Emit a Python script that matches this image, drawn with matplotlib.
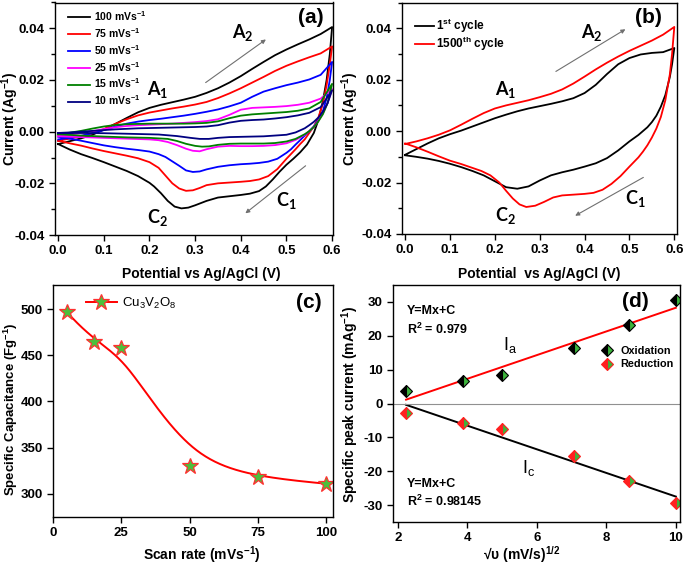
#!/usr/bin/env python3
"""
CV curves, cycling, capacitance vs scan rate and peak current fit (Cu3V2O8)
"""

import numpy as np
import matplotlib
matplotlib.use('Agg')
import matplotlib.pyplot as plt
from matplotlib.ticker import MultipleLocator, FormatStrFormatter
from matplotlib.lines import Line2D

plt.rcParams['font.family'] = ['Liberation Sans', 'DejaVu Sans']
plt.rcParams['font.weight'] = 'bold'
plt.rcParams['axes.labelweight'] = 'bold'
plt.rcParams['axes.unicode_minus'] = False
plt.rcParams['axes.linewidth'] = 1.0

# ---------------- (a) CV at different scan rates ----------------
rates = ['100', '75', '50', '25', '15', '10']
cv_colors = ['#000000', '#ff0000', '#0000ff', '#ff00ff', '#008000', '#000080']

fwd_x = [0, 0.025, 0.05, 0.075, 0.1, 0.125, 0.15, 0.175, 0.2, 0.225, 0.25, 0.275,
         0.3, 0.325, 0.35, 0.375, 0.4, 0.425, 0.45, 0.475, 0.5, 0.525, 0.55, 0.575, 0.6]

fwd_100 = [-0.0048, -0.0037, -0.0026, -0.0012, 0.0008, 0.0030, 0.0053, 0.0075, 0.0092, 0.0104,
           0.0114, 0.0124, 0.0135, 0.0150, 0.0168, 0.0190, 0.0215, 0.0243, 0.0270, 0.0296,
           0.0318, 0.0338, 0.0357, 0.0378, 0.0405]
fwd_75 = [-0.0035, -0.0027, -0.0018, -0.0006, 0.0010, 0.0030, 0.0048, 0.0063, 0.0074, 0.0082,
          0.0090, 0.0097, 0.0105, 0.0115, 0.0130, 0.0148, 0.0168, 0.0190, 0.0212, 0.0235,
          0.0255, 0.0272, 0.0288, 0.0303, 0.0330]
fwd_50 = [-0.0030, -0.0024, -0.0016, -0.0006, 0.0006, 0.0020, 0.0031, 0.0039, 0.0045, 0.0050,
          0.0056, 0.0062, 0.0069, 0.0077, 0.0086, 0.0098, 0.0112, 0.0135, 0.0155, 0.0168,
          0.0180, 0.0190, 0.0202, 0.0220, 0.0270]
fwd_25 = [-0.0018, -0.0012, -0.0005, 0.0002, 0.0010, 0.0017, 0.0022, 0.0025, 0.0027, 0.0029,
          0.0031, 0.0034, 0.0037, 0.0041, 0.0048, 0.0065, 0.0085, 0.0092, 0.0094, 0.0096,
          0.0099, 0.0104, 0.0112, 0.0128, 0.0165]
fwd_15 = [-0.0010, -0.0004, 0.0003, 0.0012, 0.0020, 0.0026, 0.0029, 0.0030, 0.0031, 0.0031,
          0.0031, 0.0031, 0.0032, 0.0034, 0.0040, 0.0052, 0.0062, 0.0067, 0.0070, 0.0073,
          0.0076, 0.0081, 0.0090, 0.0115, 0.0185]
fwd_10 = [-0.0005, -0.0003, 0.0000, 0.0003, 0.0006, 0.0009, 0.0011, 0.0013, 0.0014, 0.0015,
          0.0016, 0.0017, 0.0018, 0.0020, 0.0025, 0.0035, 0.0042, 0.0045, 0.0047, 0.0051,
          0.0056, 0.0063, 0.0073, 0.0095, 0.0160]

rev_x_100 = [0.6, 0.595, 0.588, 0.58, 0.57, 0.56, 0.545, 0.53, 0.515, 0.5, 0.485, 0.47, 0.455,
             0.44, 0.42, 0.4, 0.375, 0.35, 0.325, 0.3, 0.285, 0.27, 0.255, 0.24, 0.225, 0.21,
             0.2, 0.175, 0.15, 0.125, 0.1, 0.075, 0.05, 0.025, 0]
rev_100 = [0.0405, 0.030, 0.020, 0.012, 0.0045, -0.0005, -0.005, -0.008, -0.0105, -0.0128,
           -0.0155, -0.0185, -0.0212, -0.0230, -0.0240, -0.0245, -0.0250, -0.0255, -0.0268,
           -0.0285, -0.0294, -0.0297, -0.0290, -0.0268, -0.0238, -0.0212, -0.0198, -0.0172,
           -0.0152, -0.0135, -0.0118, -0.0102, -0.0087, -0.0069, -0.0048]

rev_x_75 = [0.6, 0.595, 0.588, 0.58, 0.57, 0.56, 0.55, 0.54, 0.53, 0.52, 0.5, 0.48, 0.46, 0.44,
            0.42, 0.4, 0.375, 0.35, 0.325, 0.31, 0.295, 0.28, 0.265, 0.25, 0.235, 0.22, 0.2,
            0.175, 0.15, 0.125, 0.1, 0.075, 0.05, 0.025, 0]
rev_75 = [0.033, 0.026, 0.018, 0.011, 0.0055, 0.002, -0.0005, -0.003, -0.0048, -0.0068,
          -0.0105, -0.0145, -0.0172, -0.0185, -0.0191, -0.0194, -0.0197, -0.0200, -0.0207,
          -0.0218, -0.0227, -0.0229, -0.0220, -0.0200, -0.0170, -0.0140, -0.0118, -0.0103,
          -0.0093, -0.0084, -0.0075, -0.0065, -0.0054, -0.0045, -0.0035]

rev_x_50 = [0.6, 0.595, 0.588, 0.58, 0.57, 0.56, 0.55, 0.54, 0.53, 0.52, 0.51, 0.5, 0.48, 0.46,
            0.44, 0.42, 0.4, 0.375, 0.35, 0.325, 0.31, 0.295, 0.28, 0.265, 0.25, 0.235, 0.22,
            0.2, 0.175, 0.15, 0.125, 0.1, 0.075, 0.05, 0.025, 0]
rev_50 = [0.027, 0.020, 0.013, 0.008, 0.0045, 0.002, 0.0002, -0.0015, -0.0033, -0.0050,
          -0.0068, -0.0082, -0.0105, -0.0116, -0.0121, -0.0124, -0.0126, -0.0130, -0.0136,
          -0.0146, -0.0154, -0.0156, -0.0150, -0.0132, -0.0115, -0.0098, -0.0087, -0.0077,
          -0.0071, -0.0066, -0.0060, -0.0053, -0.0044, -0.0035, -0.0027, -0.0020]

rev_x_25 = [0.6, 0.59, 0.58, 0.57, 0.56, 0.55, 0.54, 0.52, 0.5, 0.475, 0.45, 0.425, 0.4, 0.375,
            0.35, 0.325, 0.31, 0.295, 0.28, 0.26, 0.24, 0.22, 0.2, 0.15, 0.1, 0.05, 0]
rev_25 = [0.0165, 0.011, 0.0072, 0.0042, 0.0018, 0.0002, -0.0012, -0.0032, -0.0045, -0.0052,
          -0.0055, -0.0056, -0.0056, -0.0055, -0.0058, -0.0068, -0.0076, -0.0074, -0.0066,
          -0.0052, -0.0040, -0.0033, -0.0030, -0.0027, -0.0024, -0.0021, -0.0018]

rev_x_15 = [0.6, 0.59, 0.58, 0.57, 0.56, 0.55, 0.54, 0.52, 0.5, 0.475, 0.45, 0.425, 0.4, 0.375,
            0.35, 0.33, 0.315, 0.3, 0.28, 0.26, 0.24, 0.2, 0.15, 0.1, 0.05, 0]
rev_15 = [0.0185, 0.011, 0.0068, 0.0040, 0.0018, 0.0002, -0.0010, -0.0028, -0.0038, -0.0044,
          -0.0046, -0.0046, -0.0046, -0.0047, -0.0051, -0.0057, -0.0058, -0.0055, -0.0047,
          -0.0036, -0.0028, -0.0024, -0.0022, -0.0019, -0.0015, -0.0010]

rev_x_10 = [0.6, 0.59, 0.58, 0.57, 0.56, 0.55, 0.54, 0.52, 0.5, 0.45, 0.4, 0.375, 0.35, 0.33,
            0.31, 0.29, 0.26, 0.22, 0.15, 0.1, 0.05, 0]
rev_10 = [0.016, 0.011, 0.0078, 0.0055, 0.0038, 0.0025, 0.0013, -0.0003, -0.0012, -0.0018,
          -0.0020, -0.0021, -0.0024, -0.0028, -0.0028, -0.0024, -0.0017, -0.0011, -0.0008,
          -0.0006, -0.0005, -0.0005]

cv_fwd = [fwd_100, fwd_75, fwd_50, fwd_25, fwd_15, fwd_10]
cv_rev_x = [rev_x_100, rev_x_75, rev_x_50, rev_x_25, rev_x_15, rev_x_10]
cv_rev = [rev_100, rev_75, rev_50, rev_25, rev_15, rev_10]

# ---------------- (b) 1st vs 1500th cycle ----------------
cyc1_fwd = [-0.0092, -0.0070, -0.0048, -0.0028, -0.0012, 0.0002, 0.0018, 0.0034, 0.0050,
            0.0064, 0.0077, 0.0088, 0.0097, 0.0106, 0.0116, 0.0128, 0.0148, 0.0180, 0.0222,
            0.0260, 0.0284, 0.0298, 0.0304, 0.0307, 0.0323]
cyc1_rev_x = [0.6, 0.595, 0.59, 0.58, 0.57, 0.56, 0.55, 0.54, 0.52, 0.5, 0.475, 0.45, 0.425,
              0.4, 0.375, 0.35, 0.325, 0.3, 0.275, 0.25, 0.225, 0.2, 0.175, 0.15, 0.125, 0.1,
              0.075, 0.05, 0.025, 0]
cyc1_rev = [0.0323, 0.026, 0.021, 0.014, 0.0095, 0.006, 0.0035, 0.0015, -0.0015, -0.0040,
            -0.0075, -0.0105, -0.0125, -0.0138, -0.0150, -0.0160, -0.0172, -0.0192, -0.0215,
            -0.0224, -0.0218, -0.0195, -0.0172, -0.0155, -0.0140, -0.0127, -0.0116, -0.0107,
            -0.0100, -0.0094]

cyc1500_fwd = [-0.0050, -0.0040, -0.0028, -0.0014, 0.0003, 0.0025, 0.0048, 0.0070, 0.0088,
               0.0100, 0.0110, 0.0120, 0.0132, 0.0145, 0.0162, 0.0185, 0.0212, 0.0240, 0.0266,
               0.0290, 0.0312, 0.0332, 0.0352, 0.0375, 0.0405]
cyc1500_rev_x = [0.6, 0.595, 0.59, 0.58, 0.57, 0.56, 0.55, 0.54, 0.53, 0.52, 0.5, 0.48, 0.46,
                 0.44, 0.42, 0.4, 0.375, 0.35, 0.33, 0.31, 0.29, 0.27, 0.255, 0.24, 0.225, 0.21,
                 0.19, 0.17, 0.15, 0.125, 0.1, 0.075, 0.05, 0.025, 0]
cyc1500_rev = [0.0405, 0.030, 0.022, 0.012, 0.0055, 0.001, -0.0025, -0.0055, -0.0080, -0.0102,
               -0.0138, -0.0175, -0.0205, -0.0228, -0.0240, -0.0244, -0.0247, -0.0250, -0.0258,
               -0.0275, -0.0290, -0.0295, -0.0285, -0.0262, -0.0232, -0.0200, -0.0172, -0.0155,
               -0.0143, -0.0128, -0.0115, -0.0098, -0.0080, -0.0063, -0.0048]

# ---------------- (c) specific capacitance ----------------
scan_rate = [5, 15, 25, 50, 75, 100]
capacitance = [497, 464, 458, 330, 318, 311]

# ---------------- (d) peak current vs sqrt(scan rate) ----------------
sqrt_rate = [2.236, 3.873, 5.0, 7.071, 8.660, 10.0]
oxidation = [3.6, 6.5, 8.5, 16.3, 23.3, 30.5]
reduction = [-2.8, -5.8, -7.6, -15.6, -23.0, -29.3]


def bspline(px, py, k=3, num=300):
    """Clamped uniform B-spline using the data points as control points"""
    px = np.asarray(px, float)
    py = np.asarray(py, float)
    n = len(px)
    knots = np.concatenate([np.zeros(k + 1), np.arange(1, n - k), np.full(k + 1, n - k)]).astype(float)
    t = np.linspace(0, n - k, num)
    t[-1] -= 1e-9

    def basis(i, d):
        if d == 0:
            return ((knots[i] <= t) & (t < knots[i + 1])).astype(float)
        out = np.zeros_like(t)
        if knots[i + d] != knots[i]:
            out += (t - knots[i]) / (knots[i + d] - knots[i]) * basis(i, d - 1)
        if knots[i + d + 1] != knots[i + 1]:
            out += (knots[i + d + 1] - t) / (knots[i + d + 1] - knots[i + 1]) * basis(i + 1, d - 1)
        return out

    B = np.array([basis(i, k) for i in range(n)])
    return B.T @ px, B.T @ py


def style_cv_axis(ax, xlim):
    ax.set_xlim(*xlim)
    ax.set_ylim(-0.04, 0.05)
    ax.xaxis.set_major_locator(MultipleLocator(0.1))
    ax.yaxis.set_major_locator(MultipleLocator(0.02))
    ax.yaxis.set_minor_locator(MultipleLocator(0.01))
    ax.xaxis.set_major_formatter(FormatStrFormatter('%.1f'))
    ax.yaxis.set_major_formatter(FormatStrFormatter('%.2f'))
    ax.tick_params(which='both', direction='out', width=1, labelsize=9.5)
    ax.tick_params(which='major', length=4)
    ax.tick_params(which='minor', length=3)
    ax.set_ylabel('Current (Ag$\\mathregular{^{-1}}$)', fontsize=10)


def peak_label(ax, x, y, letter, num):
    ax.text(x, y, '$\\mathregular{%s_%s}$' % (letter, num), family='Lato', fontweight='bold',
            fontsize=13, ha='center', va='center')


def arrow(ax, start, end):
    ax.annotate('', xy=end, xytext=start,
                arrowprops=dict(arrowstyle='-|>', color='#707070', lw=0.8,
                                mutation_scale=6, shrinkA=0, shrinkB=0))


fig = plt.figure(figsize=(6.85, 5.66), dpi=100)
W, H = 685.0, 566.0
axA = fig.add_axes([55 / W, 1 - 235 / H, 278 / W, 232.5 / H])
axB = fig.add_axes([402 / W, 1 - 234 / H, 275 / W, 231.5 / H])
axC = fig.add_axes([53 / W, 1 - 517 / H, 280 / W, 232 / H])
axD = fig.add_axes([393 / W, 1 - 522 / H, 287 / W, 237 / H])

# Panel (a)
for rate, col, fy, rx, ry in zip(rates, cv_colors, cv_fwd, cv_rev_x, cv_rev):
    xs = list(fwd_x) + list(rx[1:])
    ys = list(fy) + list(ry[1:])
    axA.plot(xs, ys, color=col, lw=1.3, label='%s mVs$\\mathregular{^{-1}}$' % rate)
style_cv_axis(axA, (-0.007, 0.602))
axA.set_xlabel('Potential vs Ag/AgCl (V)', fontsize=10)
axA.xaxis.set_label_coords(0.527, -0.138)
axA.yaxis.set_label_coords(-0.123, 0.5)
axA.legend(loc='upper left', bbox_to_anchor=(0.03, 0.99), frameon=False, fontsize=7.5,
           handlelength=2.2, handletextpad=0.35, labelspacing=0.3, borderaxespad=0)
peak_label(axA, 0.218, 0.0162, 'A', 1)
peak_label(axA, 0.405, 0.0385, 'A', 2)
peak_label(axA, 0.500, -0.0265, 'C', 1)
peak_label(axA, 0.218, -0.0332, 'C', 2)
arrow(axA, (0.323, 0.019), (0.455, 0.0357))
arrow(axA, (0.542, -0.0132), (0.41, -0.0316))
axA.text(0.553, 0.0442, '(a)', fontsize=15, ha='center', va='center')

# Panel (b)
axB.plot(list(fwd_x) + cyc1_rev_x[1:], cyc1_fwd + cyc1_rev[1:], color='black', lw=1.3,
         label='1$\\mathregular{^{st}}$ cycle')
axB.plot(list(fwd_x) + cyc1500_rev_x[1:], cyc1500_fwd + cyc1500_rev[1:], color='#ff0000', lw=1.3,
         label='1500$\\mathregular{^{th}}$ cycle')
style_cv_axis(axB, (-0.007, 0.606))
axB.set_xlabel('Potential  vs Ag/AgCl (V)', fontsize=10)
axB.xaxis.set_label_coords(0.5, -0.143)
axB.yaxis.set_label_coords(-0.148, 0.5)
axB.legend(loc='upper left', bbox_to_anchor=(0.03, 0.96), frameon=False, fontsize=8.5,
           handlelength=1.6, handletextpad=0.15, labelspacing=0.0, borderaxespad=0)
peak_label(axB, 0.224, 0.0162, 'A', 1)
peak_label(axB, 0.416, 0.0385, 'A', 2)
peak_label(axB, 0.512, -0.0262, 'C', 1)
peak_label(axB, 0.224, -0.0328, 'C', 2)
arrow(axB, (0.336, 0.0232), (0.491, 0.0396))
arrow(axB, (0.531, -0.018), (0.379, -0.0329))
axB.text(0.542, 0.0442, '(b)', fontsize=15, ha='center', va='center')

# Panel (c)
sx, sy = bspline(scan_rate, capacitance)
axC.plot(sx, sy, color='#ff0000', lw=1.4)
axC.plot(scan_rate, capacitance, ls='none', marker='*', ms=12, mfc='#4cbf3c',
         mec='#ff3030', mew=0.9)
axC.set_xlim(0, 102.5)
axC.set_ylim(275, 526)
axC.xaxis.set_major_locator(MultipleLocator(25))
axC.yaxis.set_major_locator(MultipleLocator(50))
axC.tick_params(direction='out', length=4, width=1, labelsize=9.5)
axC.set_xlabel('Scan rate (mVs$\\mathregular{^{-1}}$)', fontsize=10)
axC.set_ylabel('Specific Capacitance (Fg$\\mathregular{^{-1}}$)', fontsize=9.5)
axC.xaxis.set_label_coords(0.532, -0.118)
axC.yaxis.set_label_coords(-0.118, 0.466)
c_handle = Line2D([], [], color='#ff0000', lw=1.4, marker='*', ms=12, mfc='#4cbf3c',
                  mec='#ff3030', mew=0.9)
axC.legend([c_handle], ['Cu$\\mathregular{_3}$V$\\mathregular{_2}$O$\\mathregular{_8}$'],
           loc='upper left', bbox_to_anchor=(0.1, 0.975), frameon=False,
           prop={'size': 9.5, 'weight': 'normal'}, handlelength=2.3, handletextpad=0.4,
           borderaxespad=0)
axC.text(93.5, 507, '(c)', fontsize=15, ha='center', va='center')

# Panel (d)
xd = np.array(sqrt_rate)
for vals, col in [(oxidation, '#ff0000'), (reduction, 'black')]:
    m, c = np.polyfit(xd, vals, 1)
    xl = np.array([xd.min(), xd.max()])
    axD.plot(xl, m * xl + c, color=col, lw=1.4)
axD.axhline(0, color='#909090', lw=0.8)
axD.plot(xd, oxidation, ls='none', marker='D', ms=6.5, fillstyle='left', mfc='black',
         mfcalt='#3cb43c', mec='black', mew=0.8, label='Oxidation')
axD.plot(xd, reduction, ls='none', marker='D', ms=6.5, fillstyle='left', mfc='#ff2020',
         mfcalt='#3cb43c', mec='#ff2020', mew=0.8, label='Reduction')
axD.set_xlim(1.86, 10.12)
axD.set_ylim(-35, 35)
axD.xaxis.set_major_locator(MultipleLocator(2))
axD.yaxis.set_major_locator(MultipleLocator(10))
axD.tick_params(direction='out', length=4, width=1, labelsize=9.5)
axD.set_xlabel('\u221a\u03c5 (mV/s)$\\mathregular{^{1/2}}$', fontsize=10)
axD.set_ylabel('Specific peak current (mAg$\\mathregular{^{-1}}$)', fontsize=10)
axD.xaxis.set_label_coords(0.45, -0.092)
axD.yaxis.set_label_coords(-0.112, 0.494)
axD.legend(loc='upper left', bbox_to_anchor=(0.71, 0.76), frameon=False, fontsize=7.8,
           handlelength=1.0, handletextpad=0.8, labelspacing=0.3, borderaxespad=0)
axD.text(2.25, 27.3, 'Y=Mx+C', fontsize=9, va='center')
axD.text(2.25, 21.9, 'R$\\mathregular{^2}$ = 0.979', fontsize=9, va='center')
axD.text(2.25, -23.7, 'Y=Mx+C', fontsize=9, va='center')
axD.text(2.25, -28.8, 'R$\\mathregular{^2}$ = 0.98145', fontsize=9, va='center')
axD.text(5.23, 17.3, '$\\mathregular{I_a}$', fontsize=13, fontweight='normal', ha='center', va='center')
axD.text(5.76, -19.0, '$\\mathregular{I_c}$', fontsize=13, fontweight='normal', ha='center', va='center')
axD.text(8.83, 30.0, '(d)', fontsize=15, ha='center', va='center')

fig.savefig('out.png', dpi=100)
